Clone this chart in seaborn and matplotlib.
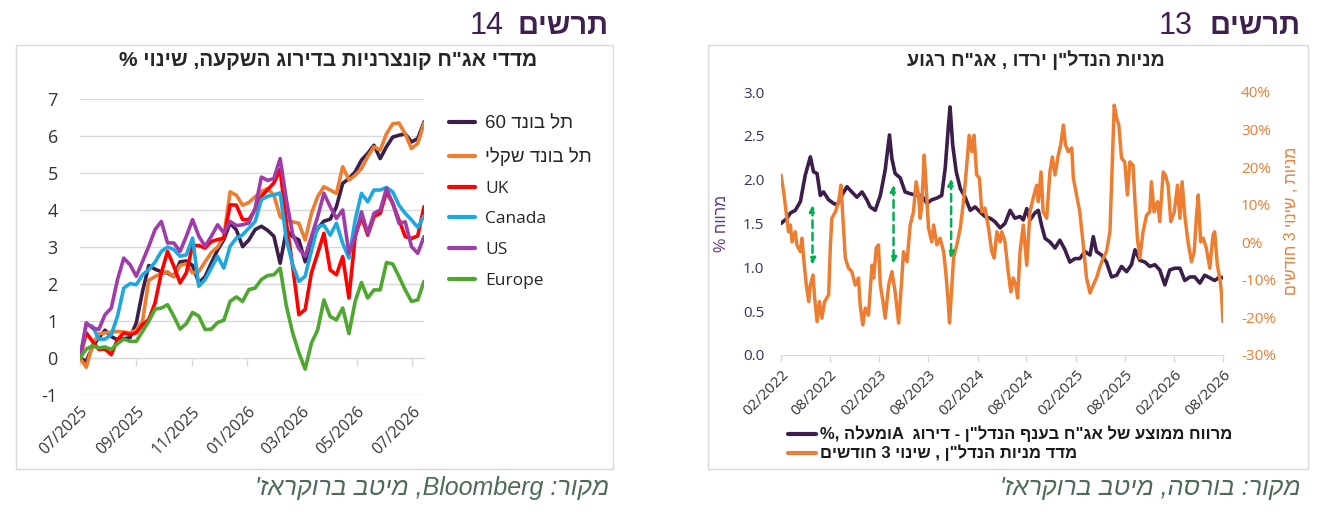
import re
import pandas as pd
import matplotlib
matplotlib.use("Agg")
import matplotlib.pyplot as plt
import matplotlib.dates as mdates
from matplotlib.lines import Line2D
from matplotlib.patches import Rectangle
from matplotlib.ticker import FuncFormatter
import seaborn as sns

# ---------------- chart 14: corporate bond indices, % change (weekly) ----------------
bond_dates = pd.date_range("2025-07-01", "2026-07-14", periods=56)

tel_bond_60 = [0.00, -0.09, 0.30, 0.55, 0.75, 0.58, 0.49, 0.52, 0.55, 0.95, 1.80, 2.50, 2.40, 2.33,
               2.30, 2.20, 2.60, 2.62, 2.50, 2.03, 2.20, 2.57, 2.92, 3.20, 3.65, 3.46, 3.01, 3.19,
               3.47, 3.56, 3.45, 3.29, 2.56, 3.46, 3.28, 3.19, 2.60, 3.20, 3.50, 3.70, 3.75, 4.09,
               4.72, 4.85, 5.03, 5.35, 5.53, 5.75, 5.39, 5.71, 5.97, 6.02, 6.06, 5.84, 5.93, 6.38]
tel_bond_shekel = [0.00, -0.25, 0.35, 0.65, 0.68, 0.70, 0.72, 0.70, 0.68, 0.75, 1.00, 2.10, 2.20, 2.28,
                   2.33, 2.20, 2.50, 2.55, 2.30, 2.34, 2.60, 2.85, 3.00, 3.28, 4.49, 4.40, 4.13, 4.20,
                   4.36, 4.50, 4.58, 4.40, 3.82, 3.70, 3.68, 3.64, 3.19, 3.91, 4.36, 4.63, 4.54, 4.45,
                   5.17, 4.81, 4.94, 5.12, 5.44, 5.71, 5.62, 6.06, 6.33, 6.35, 6.06, 5.66, 5.80, 6.35]
uk = [0.00, 0.68, 0.45, 0.23, 0.24, 0.09, 0.50, 0.68, 0.63, 0.68, 0.90, 1.04, 1.49, 2.30,
      2.88, 2.48, 2.03, 2.30, 3.04, 3.04, 2.97, 3.15, 3.20, 3.24, 4.14, 4.13, 3.74, 3.74,
      4.01, 4.37, 4.55, 4.73, 5.09, 3.65, 2.48, 1.17, 1.31, 2.30, 2.83, 3.37, 2.38, 2.25,
      2.74, 1.62, 3.28, 3.82, 3.32, 3.82, 3.91, 4.49, 4.18, 3.73, 3.28, 3.23, 3.30, 4.09]
canada = [0.00, 0.90, 0.86, 0.51, 0.51, 0.63, 1.13, 1.89, 2.01, 1.98, 2.25, 2.39, 2.59, 2.88,
          3.00, 2.93, 2.75, 2.79, 3.24, 1.94, 2.12, 2.43, 2.75, 2.43, 3.02, 3.24, 3.33, 3.51,
          3.69, 4.28, 4.37, 4.41, 4.46, 3.20, 2.52, 2.07, 2.21, 2.90, 3.55, 3.59, 3.32, 3.64,
          3.10, 2.70, 3.73, 4.45, 4.22, 4.54, 4.54, 4.61, 4.49, 4.13, 3.91, 3.73, 3.53, 3.84]
us = [0.00, 0.95, 0.81, 0.77, 1.17, 1.35, 2.12, 2.70, 2.52, 2.21, 2.61, 3.02, 3.47, 3.69,
      3.11, 3.11, 2.88, 3.29, 3.74, 3.29, 3.02, 3.29, 3.60, 3.38, 3.69, 3.58, 3.60, 3.65,
      4.05, 4.89, 4.80, 4.85, 5.39, 4.27, 3.35, 2.95, 2.75, 3.28, 3.82, 4.45, 4.09, 3.77,
      4.00, 2.83, 3.28, 3.95, 3.37, 3.91, 4.00, 4.58, 4.18, 3.64, 3.68, 3.01, 2.83, 3.28]
europe = [0.00, 0.24, 0.33, 0.27, 0.30, 0.23, 0.39, 0.51, 0.45, 0.45, 0.72, 0.99, 1.32, 1.35,
          1.44, 1.13, 0.78, 0.93, 1.23, 1.13, 0.77, 0.78, 0.96, 1.02, 1.53, 1.65, 1.53, 1.85,
          1.89, 2.12, 2.23, 2.25, 2.43, 1.40, 0.68, 0.14, -0.30, 0.40, 0.76, 1.57, 1.12, 1.03,
          1.35, 0.66, 1.53, 2.04, 1.62, 1.84, 1.84, 2.58, 2.54, 2.20, 1.84, 1.53, 1.57, 2.07]

bond_names = ["תל בונד 60", "תל בונד שקלי", "UK", "Canada", "US", "Europe"]
bond_colors = ["#3B1E4A", "#ED7D31", "#FF0000", "#1FA8DD", "#A03BAA", "#4EA72E"]
bond_ticks = pd.date_range("2025-07-01", "2026-07-01", freq="2MS")

# ---------------- chart 13: real-estate bond spread vs. real-estate stocks ----------------
spread_dates = ["2022-02-01", "2022-02-23", "2022-03-08", "2022-03-26", "2022-04-14", "2022-05-02",
                "2022-05-21", "2022-06-02", "2022-06-15", "2022-06-27", "2022-07-09", "2022-07-28",
                "2022-08-15", "2022-08-28", "2022-09-15", "2022-10-04", "2022-10-22", "2022-11-10",
                "2022-11-29", "2022-12-17", "2022-12-29", "2023-01-17", "2023-02-05", "2023-02-23",
                "2023-03-11", "2023-03-20", "2023-04-01", "2023-04-20", "2023-05-08", "2023-05-27",
                "2023-06-21", "2023-07-09", "2023-07-28", "2023-08-15", "2023-09-03", "2023-09-21",
                "2023-10-04", "2023-10-16", "2023-10-22", "2023-11-01", "2023-11-14", "2023-11-29",
                "2023-12-17", "2024-01-05", "2024-01-23", "2024-02-11", "2024-02-29", "2024-03-19",
                "2024-04-06", "2024-04-25", "2024-05-13", "2024-06-01", "2024-06-19", "2024-07-08",
                "2024-07-20", "2024-08-02", "2024-08-14", "2024-09-01", "2024-09-14", "2024-09-26",
                "2024-10-09", "2024-10-27", "2024-11-15", "2024-12-03", "2024-12-22", "2025-01-09",
                "2025-01-28", "2025-02-15", "2025-03-06", "2025-03-25", "2025-04-06", "2025-04-18",
                "2025-05-07", "2025-05-25", "2025-06-13", "2025-07-02", "2025-07-20", "2025-08-08",
                "2025-08-26", "2025-09-08", "2025-09-26", "2025-10-15", "2025-11-02", "2025-11-21",
                "2025-12-09", "2025-12-28", "2026-01-15", "2026-02-03", "2026-02-22", "2026-03-12",
                "2026-03-31", "2026-04-18", "2026-05-07", "2026-05-25", "2026-06-13", "2026-07-01",
                "2026-07-20", "2026-08-01"]
spread_values = [1.50, 1.56, 1.62, 1.65, 1.75, 2.05, 2.26, 2.09, 2.07, 1.82, 1.86, 1.77,
                 1.73, 1.71, 1.82, 1.92, 1.86, 1.80, 1.86, 1.77, 1.69, 1.65, 1.82, 2.11,
                 2.51, 2.24, 2.07, 2.02, 1.86, 1.84, 1.82, 1.82, 1.73, 1.77, 1.79, 1.82,
                 2.13, 2.62, 2.83, 2.39, 2.09, 1.90, 1.80, 1.65, 1.69, 1.63, 1.58, 1.56,
                 1.52, 1.45, 1.50, 1.65, 1.56, 1.58, 1.54, 1.67, 1.54, 1.62, 1.65, 1.48,
                 1.33, 1.29, 1.22, 1.31, 1.20, 1.06, 1.10, 1.10, 1.18, 1.14, 1.35, 1.18,
                 1.14, 1.06, 0.89, 0.91, 1.01, 0.95, 1.03, 1.20, 1.08, 1.06, 1.01, 1.03,
                 0.97, 0.80, 0.97, 0.99, 0.99, 0.85, 0.89, 0.89, 0.82, 0.91, 0.88, 0.85,
                 0.89, 0.88]

stock_dates = ["2022-02-01", "2022-02-11", "2022-02-17", "2022-02-23", "2022-03-01", "2022-03-08",
               "2022-03-14", "2022-03-26", "2022-04-01", "2022-04-14", "2022-04-20", "2022-04-26",
               "2022-05-06", "2022-05-15", "2022-05-21", "2022-05-31", "2022-06-06", "2022-06-15",
               "2022-06-24", "2022-07-03", "2022-07-13", "2022-07-28", "2022-08-03", "2022-08-09",
               "2022-08-22", "2022-09-03", "2022-09-12", "2022-09-19", "2022-09-28", "2022-10-10",
               "2022-10-22", "2022-11-04", "2022-11-16", "2022-11-22", "2022-12-02", "2022-12-11",
               "2022-12-23", "2023-01-05", "2023-01-11", "2023-01-21", "2023-01-29", "2023-02-05",
               "2023-02-15", "2023-02-23", "2023-03-08", "2023-03-20", "2023-04-01", "2023-04-14",
               "2023-04-26", "2023-05-02", "2023-05-15", "2023-05-27", "2023-06-08", "2023-06-18",
               "2023-06-27", "2023-07-03", "2023-07-09", "2023-07-18", "2023-07-25", "2023-08-03",
               "2023-08-15", "2023-08-22", "2023-09-03", "2023-09-15", "2023-09-28", "2023-10-06",
               "2023-10-14", "2023-10-20", "2023-10-29", "2023-11-04", "2023-11-16", "2023-11-29",
               "2023-12-11", "2023-12-23", "2024-01-01", "2024-01-11", "2024-01-19", "2024-01-29",
               "2024-02-08", "2024-02-17", "2024-02-29", "2024-03-13", "2024-03-25", "2024-04-03",
               "2024-04-13", "2024-04-25", "2024-05-01", "2024-05-13", "2024-05-25", "2024-06-04",
               "2024-06-13", "2024-06-22", "2024-06-29", "2024-07-08", "2024-07-20", "2024-08-02",
               "2024-08-14", "2024-08-26", "2024-09-08", "2024-09-14", "2024-09-24", "2024-10-02",
               "2024-10-15", "2024-10-27", "2024-11-05", "2024-11-15", "2024-11-27", "2024-12-06",
               "2024-12-16", "2024-12-24", "2025-01-03", "2025-01-16", "2025-01-22", "2025-02-03",
               "2025-02-15", "2025-02-28", "2025-03-12", "2025-03-25", "2025-04-06", "2025-04-18",
               "2025-05-01", "2025-05-13", "2025-05-25", "2025-06-07", "2025-06-15", "2025-06-23",
               "2025-07-02", "2025-07-10", "2025-07-20", "2025-08-01", "2025-08-11", "2025-08-20",
               "2025-09-01", "2025-09-08", "2025-09-17", "2025-09-26", "2025-10-08", "2025-10-21",
               "2025-11-02", "2025-11-08", "2025-11-18", "2025-12-01", "2025-12-09", "2025-12-22",
               "2025-12-30", "2026-01-09", "2026-01-19", "2026-02-01", "2026-02-13", "2026-02-22",
               "2026-03-02", "2026-03-12", "2026-03-24", "2026-04-06", "2026-04-16", "2026-04-24",
               "2026-05-01", "2026-05-10", "2026-05-19", "2026-05-31", "2026-06-13", "2026-06-25",
               "2026-07-01", "2026-07-11", "2026-07-20", "2026-07-26", "2026-08-01"]
stock_values = [17.9, 13.4, 9.9, 6.4, 2.8, 4.6, 0.1, 2.8, -0.7, -2.5, 1.1, -4.2,
                -11.4, -15.8, -11.4, -8.7, -14.8, -21.1, -15.8, -20.2, -15.8, -14.0, -1.5, 6.4,
                8.1, 10.8, 15.2, 6.4, -4.2, -6.9, -7.8, -11.4, -9.5, -16.7, -22.0, -17.5,
                -19.4, -6.1, -9.5, -1.5, -0.7, -11.4, -15.8, -20.2, -11.4, -7.8, -13.2, -21.5,
                -9.5, -2.5, -5.2, 4.6, 8.1, 16.1, 12.6, 6.4, 9.9, 23.2, 15.2, 3.8,
                0.1, 4.6, -0.7, 1.1, -2.5, -7.8, -14.8, -21.5, -11.4, -4.2, -0.7, 3.8,
                10.8, 20.5, 28.5, 24.1, 28.5, 17.9, 17.1, 8.1, 9.1, 3.8, -2.5, -4.2,
                2.8, 0.1, 2.8, 0.1, -7.8, -13.2, -9.5, -11.4, -14.8, -2.5, 4.6, -6.1,
                8.1, 11.8, 15.2, 10.8, 18.7, 8.1, 6.4, 18.7, 22.7, 17.9, 23.2, 25.9,
                31.2, 25.9, 24.1, 25.1, 17.1, 12.6, 8.1, -0.7, -9.5, -13.5, -11.4, -9.5,
                -6.5, -4.2, -2.5, 2.8, 19.7, 36.5, 33.0, 31.2, 22.4, 21.4, 12.6, 21.4,
                20.5, 10.8, 1.1, -4.2, 2.8, 7.2, 8.1, 16.1, 8.1, 10.8, 5.5, 18.7,
                17.9, 15.2, 5.5, 8.1, 15.2, 6.4, 16.1, 7.2, 0.1, -5.2, -2.5, 6.4,
                12.6, 0.1, 1.1, -1.5, -6.9, 1.9, 2.8, -6.1, -9.5, -13.2, -21.1]

arrow_dates = ["2022-05-29", "2023-03-26", "2023-10-26"]
arrow_top = [1.71, 1.94, 2.01]
arrow_bottom = [1.03, 1.04, 1.10]

spread_ticks = pd.date_range("2022-02-01", "2026-08-01", freq="6MS")

PURPLE = "#3B1E4A"
ORANGE = "#ED7D31"
HEB = ["Liberation Sans", "DejaVu Sans"]
W, H = 1318, 520


def rtl(text):
    # matplotlib has no bidi support: put Hebrew into visual order, keep latin/digit runs
    flipped = text[::-1]
    return re.sub(r"[A-Za-z0-9]+", lambda m: m.group(0)[::-1], flipped)


def fx(px):
    return px / W


def fy(py):
    return 1 - py / H


sns.set_style("white")
plt.rcParams["font.family"] = ["Open Sans", "Liberation Sans", "DejaVu Sans"]
plt.rcParams["axes.unicode_minus"] = False

fig = plt.figure(figsize=(W / 100, H / 100), dpi=100)
fig.patch.set_facecolor("white")

# panel frames
for x0, x1 in [(16, 613), (708, 1308)]:
    fig.add_artist(Rectangle((fx(x0), fy(469)), fx(x1) - fx(x0), fy(45) - fy(469),
                             transform=fig.transFigure, fill=False, edgecolor="#D9D9D9", lw=1))

# headings, titles and sources
HEAD = "#3F2150"
SRC = "#4E6B58"
fig.text(fx(609), fy(26), rtl("תרשים"), ha="right", va="center", fontsize=21, weight="bold",
         color=HEAD, family=HEB)
fig.text(fx(504), fy(26), "14", ha="right", va="center", fontsize=22, color=HEAD, family=HEB)
fig.text(fx(1300), fy(26), rtl("תרשים"), ha="right", va="center", fontsize=21, weight="bold",
         color=HEAD, family=HEB)
fig.text(fx(1193), fy(26), "13", ha="right", va="center", fontsize=22, color=HEAD, family=HEB)

fig.text(fx(328), fy(61), rtl('מדדי אג"ח קונצרניות בדירוג השקעה, שינוי %'), ha="center",
         va="center", fontsize=15, weight="bold", color="#262626", family=HEB)
fig.text(fx(1036), fy(60), rtl('מניות הנדל"ן ירדו , אג"ח רגוע'), ha="center",
         va="center", fontsize=14, weight="bold", color="#262626", family=HEB)

fig.text(fx(609), fy(488), rtl("מקור: Bloomberg, מיטב ברוקראז'"), ha="right", va="center",
         fontsize=18, style="italic", color=SRC, family=HEB)
fig.text(fx(1300), fy(488), rtl("מקור: בורסה, מיטב ברוקראז'"), ha="right", va="center",
         fontsize=18, style="italic", color=SRC, family=HEB)

# ---------------- left chart ----------------
ax1 = fig.add_axes([fx(80), fy(395), fx(424) - fx(80), fy(99) - fy(395)])
long_df = pd.DataFrame({
    "date": list(bond_dates) * 6,
    "value": tel_bond_60 + tel_bond_shekel + uk + canada + us + europe,
    "series": [n for n in bond_names for _ in range(len(bond_dates))],
})
sns.lineplot(data=long_df, x="date", y="value", hue="series", hue_order=bond_names,
             palette=bond_colors, linewidth=2.6, estimator=None, legend=False, ax=ax1)

ax1.set_xlim(bond_dates[0], bond_dates[-1])
ax1.set_ylim(-1, 7)
ax1.set_yticks(range(-1, 8))
ax1.set_xticks(bond_ticks)
ax1.xaxis.set_major_formatter(mdates.DateFormatter("%m/%Y"))
ax1.grid(axis="y", color="#D9D9D9", lw=1)
ax1.grid(axis="x", visible=False)
for s in ax1.spines.values():
    s.set_visible(False)
ax1.set_xlabel("")
ax1.set_ylabel("")
ax1.tick_params(axis="y", length=0, pad=16, labelsize=13, labelcolor="#333333")
ax1.tick_params(axis="x", length=0, pad=6, labelsize=11.5, labelcolor="#333333")
for lab in ax1.get_xticklabels():
    lab.set_rotation(45)
    lab.set_ha("right")
    lab.set_rotation_mode("anchor")

zero_axis = ax1.secondary_xaxis(0, transform=ax1.transData)
zero_axis.set_xticks(mdates.date2num(bond_ticks))
zero_axis.tick_params(axis="x", length=6, width=1, color="#D9D9D9", labelbottom=False,
                      direction="out")
for s in zero_axis.spines.values():
    s.set_color("#D9D9D9")

left_handles = [Line2D([0], [0], color=c, lw=3) for c in bond_colors]
leg = fig.legend(left_handles, [rtl(n) for n in bond_names], loc="upper left",
                 bbox_to_anchor=(fx(449), fy(115)), frameon=False, fontsize=12.5,
                 handlelength=1.5, handletextpad=0.6, labelspacing=0.85, borderpad=0,
                 borderaxespad=0, labelcolor="#262626")
for t in leg.get_texts():
    if re.search("[\u0590-\u05FF]", t.get_text()):
        t.set_family(HEB)
        t.set_fontsize(13.5)

# ---------------- right chart ----------------
axr = fig.add_axes([fx(781), fy(355), fx(1223) - fx(781), fy(92) - fy(355)])
sns.lineplot(x=pd.to_datetime(spread_dates), y=spread_values, color=PURPLE, linewidth=2.6, ax=axr)
axr2 = axr.twinx()
sns.lineplot(x=pd.to_datetime(stock_dates), y=stock_values, color=ORANGE, linewidth=2.5, ax=axr2)

axr.set_xlim(pd.Timestamp("2022-02-01"), pd.Timestamp("2026-08-01"))
axr.set_ylim(0, 3)
axr.set_yticks([0, 0.5, 1.0, 1.5, 2.0, 2.5, 3.0])
axr.yaxis.set_major_formatter(FuncFormatter(lambda v, p: f"{v:.1f}"))
axr2.set_ylim(-30, 40)
axr2.set_yticks(range(-30, 41, 10))
axr2.yaxis.set_major_formatter(FuncFormatter(lambda v, p: f"{v:.0f}%"))
axr.set_xticks(spread_ticks)
axr.xaxis.set_major_formatter(mdates.DateFormatter("%m/%Y"))
for a in (axr, axr2):
    for s in a.spines.values():
        s.set_visible(False)
    a.set_xlabel("")
    a.set_ylabel("")
    a.grid(False)
axr.spines["bottom"].set_visible(True)
axr.spines["bottom"].set_color("#D9D9D9")
axr.tick_params(axis="y", length=0, pad=12, labelsize=11, labelcolor="#3A3160")
axr2.tick_params(axis="y", length=0, pad=13, labelsize=11, labelcolor=ORANGE)
axr.tick_params(axis="x", length=5, width=1, color="#D9D9D9", direction="out", pad=4,
                labelsize=11, labelcolor="#333333", bottom=True)
for lab in axr.get_xticklabels():
    lab.set_rotation(45)
    lab.set_ha("right")
    lab.set_rotation_mode("anchor")

for d, top, bot in zip(arrow_dates, arrow_top, arrow_bottom):
    xd = mdates.date2num(pd.Timestamp(d))
    axr2.annotate("", xy=(xd, bot), xytext=(xd, top), xycoords=axr.transData,
                  textcoords=axr.transData,
                  arrowprops=dict(arrowstyle="<|-|>", color="#00B050", lw=1.8,
                                  linestyle=(0, (3, 2)), mutation_scale=9,
                                  shrinkA=0, shrinkB=0))

fig.text(fx(722), fy(223), rtl("מרווח %"), rotation=90, ha="center", va="center",
         fontsize=11.5, color="#5B3A7A", family=HEB)
fig.text(fx(1292), fy(221), rtl("מניות , שינוי 3 חודשים"), rotation=90, ha="center",
         va="center", fontsize=11.5, color=ORANGE, family=HEB)

right_handles = [Line2D([0], [0], color=PURPLE, lw=3), Line2D([0], [0], color=ORANGE, lw=3)]
right_labels = [rtl('מרווח ממוצע של אג"ח בענף הנדל"ן - דירוג  Aומעלה ,%'),
                rtl('מדד מניות הנדל"ן , שינוי 3 חודשים')]
fig.legend(right_handles, right_labels, loc="upper left", bbox_to_anchor=(fx(788), fy(426)),
           frameon=False, prop=dict(family=HEB, weight="bold", size=12),
           handlelength=1.7, handletextpad=0.2, labelspacing=0.15, borderpad=0,
           borderaxespad=0, labelcolor="#1a1a1a")

fig.savefig("out.png", dpi=100)
plt.close(fig)
